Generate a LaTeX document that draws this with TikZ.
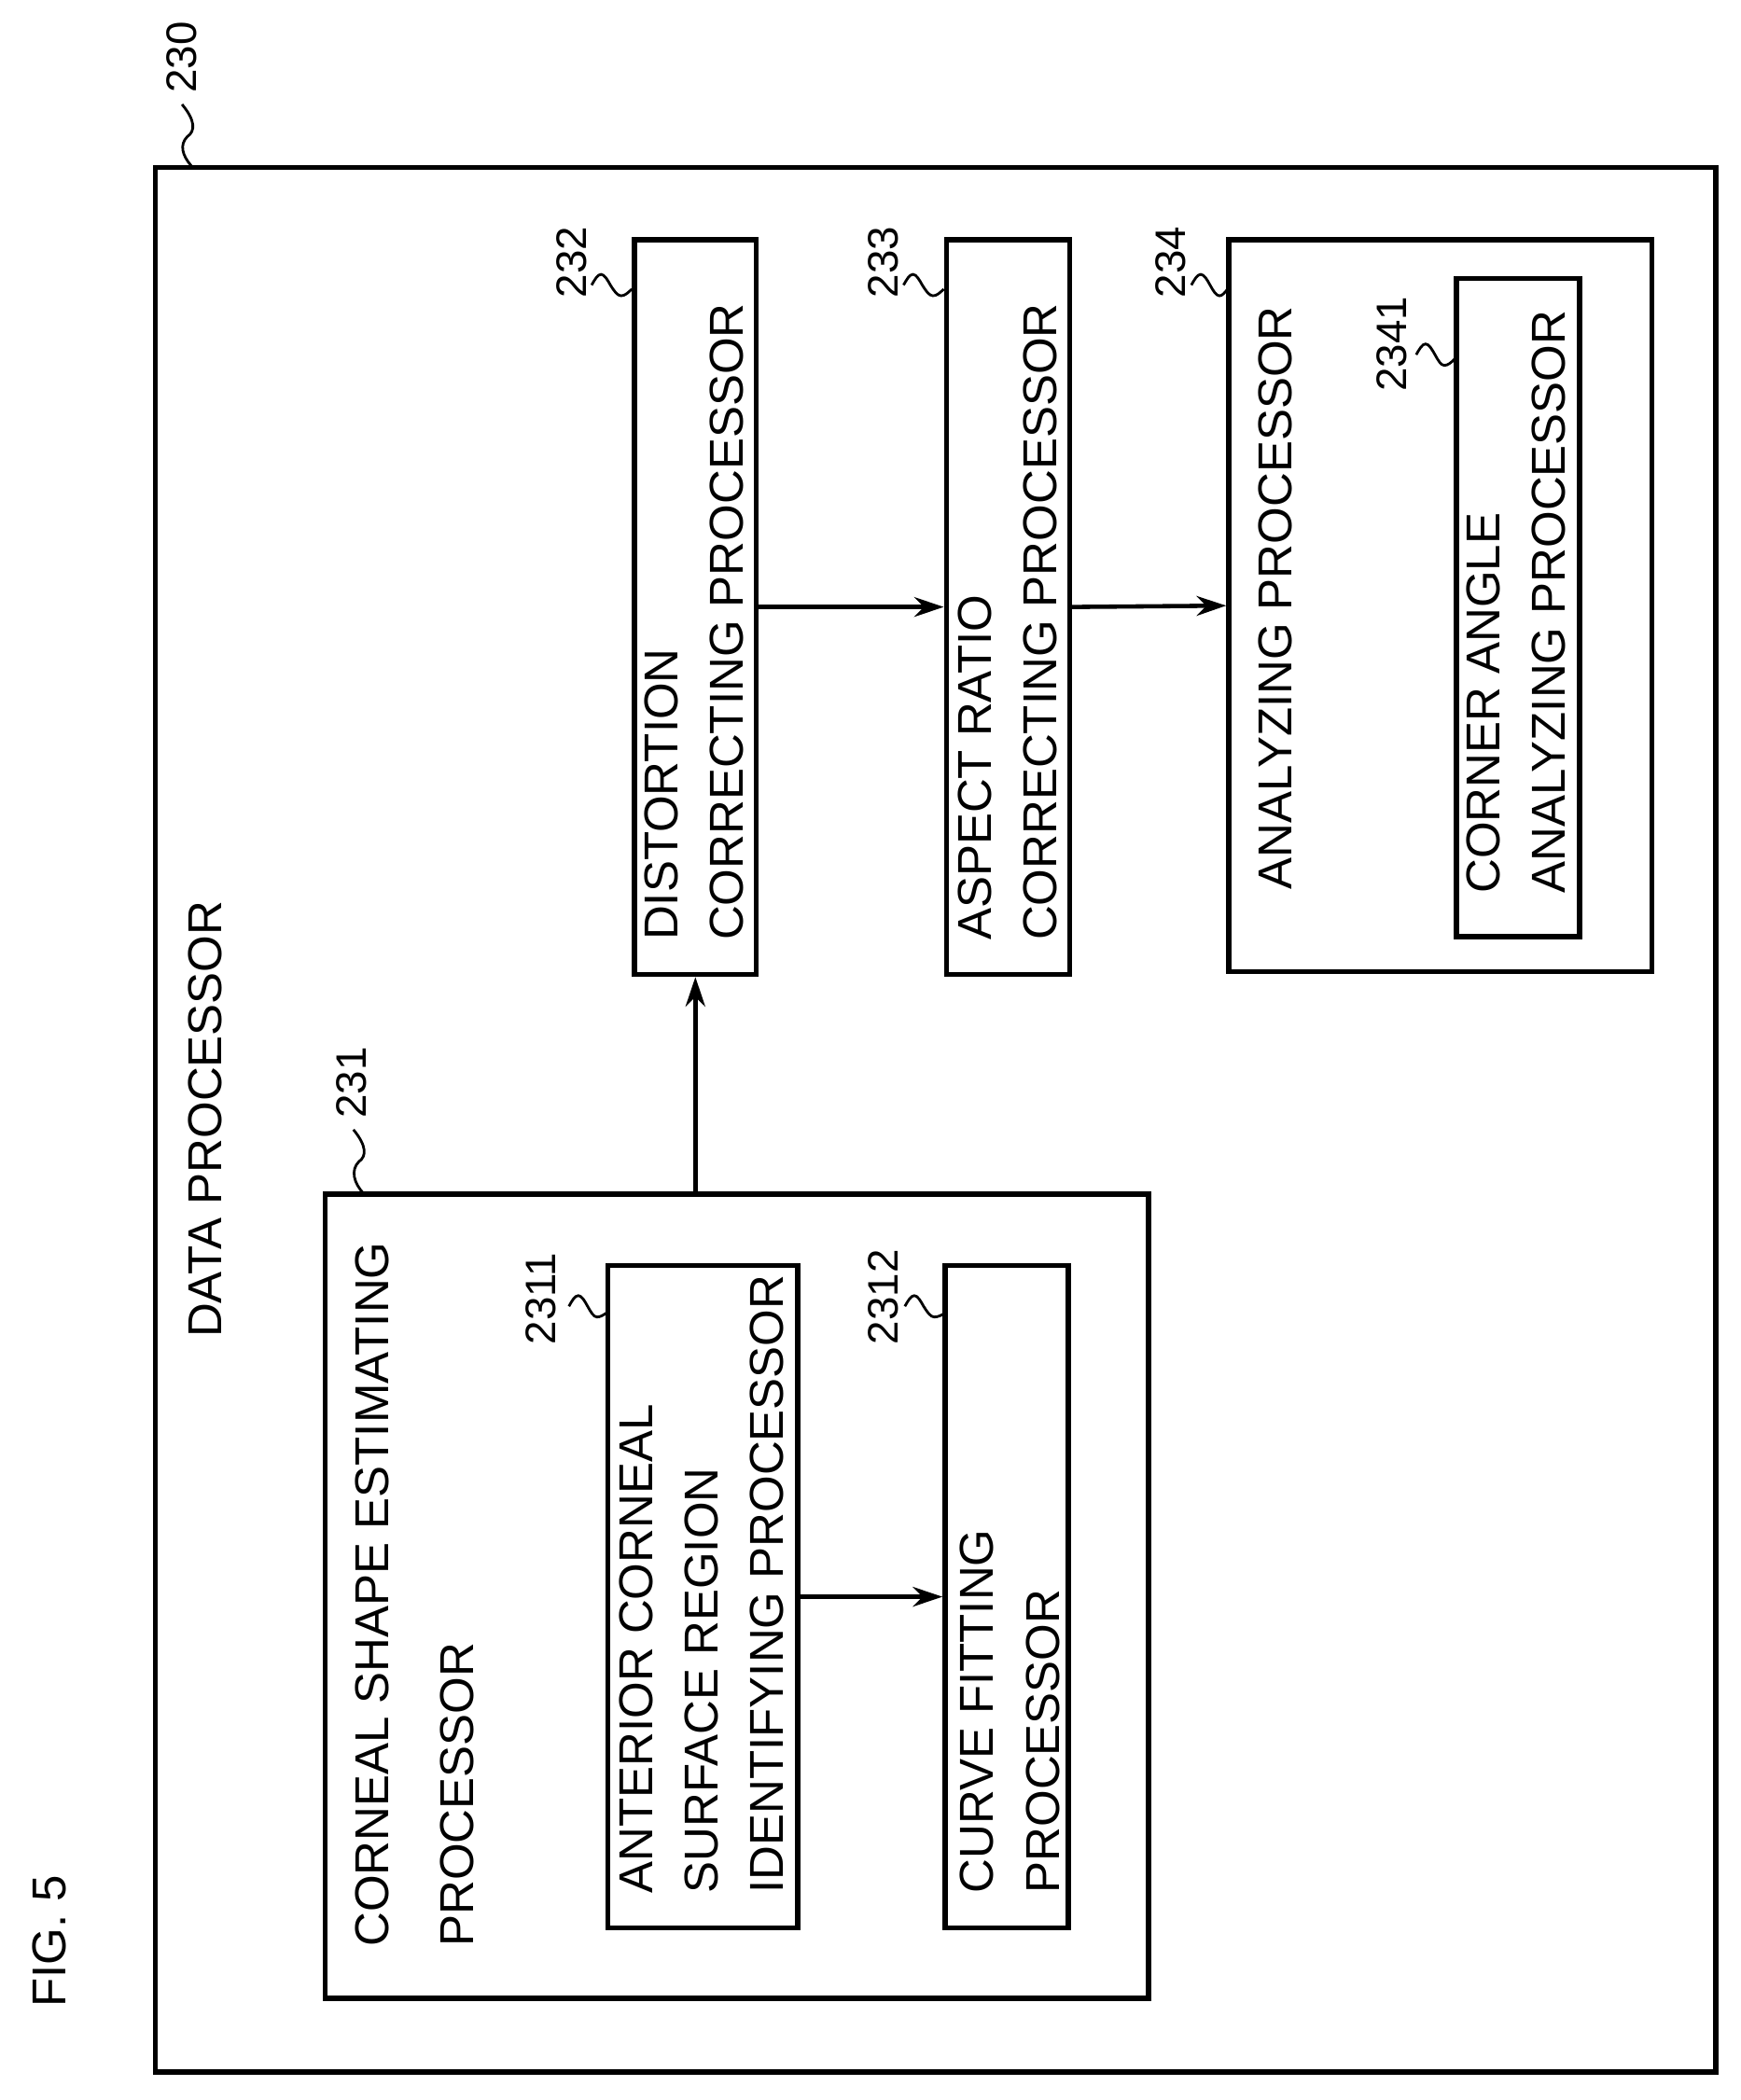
\documentclass[tikz,border=0pt]{standalone}
\usepackage{fontspec}
\setmainfont{Liberation Sans}
\usetikzlibrary{arrows.meta,positioning,calc}

\newcommand{\dpx}{0.014346cm}

\begin{document}
\begin{tikzpicture}[x=\dpx, y=-\dpx,
    box/.style={draw, line width=1.6pt, minimum width=#1},
    lbl/.style={rotate=90, anchor=north west, inner sep=0pt, align=left,
                font=\fontsize{14.5}{20}\selectfont},
    num/.style={rotate=90, anchor=north west, inner sep=0pt,
                font=\fontsize{13}{15}\selectfont},
    arr/.style={-{Stealth[length=9pt,width=6pt]}, line width=1.3pt},
    squig/.style={line width=0.8pt}]
    \useasboundingbox (0,0) rectangle (1300,1569);

    % outer frame
    \node[box=1166*\dpx, minimum height=1423*\dpx] (data) at (699,836.5) {};
    \node[lbl] (datat) at (140,1000) {DATA PROCESSOR};
    \node[num] (n230) at (124,70) {230};
    \draw[squig] (136,78) .. controls (146,90) and (146,98) .. (140,102)
                          .. controls (134,108) and (136,116) .. (143,124);
    \node[lbl] (fig) at (24,1500) {FIG. 5};

    % corneal shape estimating
    \node[box=615*\dpx, minimum height=601*\dpx] (shape) at (550.5,1192.5) {};
    \node[lbl, font=\fontsize{14.5}{26}\selectfont] (shapet) at (265,1455)
        {CORNEAL SHAPE ESTIMATING\\PROCESSOR};
    \node[num] (n231) at (251,836) {231};
    \draw[squig] (264,844) .. controls (274,856) and (274,864) .. (268,868)
                           .. controls (262,874) and (264,884) .. (272,892);

    \node[box=142*\dpx, minimum height=495*\dpx] (surf) at (525,1193) {};
    \node[lbl] (surft) at (462,1415)
        {ANTERIOR CORNEAL\\SURFACE REGION\\IDENTIFYING PROCESSOR};
    \node[num] (n2311) at (392,1005) {2311};
    \draw[squig] (425,976) sin (432,968) cos (439,976) sin (446,984) cos (453,981);

    \node[box=92*\dpx, minimum height=495*\dpx] (curve) at (752,1193) {};
    \node[lbl] (curvet) at (717,1415) {CURVE FITTING\\PROCESSOR};
    \node[num] (n2312) at (648,1005) {2312};
    \draw[squig] (676,976) sin (683,968) cos (690,976) sin (698,984) cos (706,981);

    % correcting processors
    \node[box=91*\dpx, minimum height=549*\dpx] (dist) at (519.5,453.5) {};
    \node[lbl] (distt) at (481,703) {DISTORTION\\CORRECTING PROCESSOR};
    \node[num] (n232) at (415,223) {232};
    \draw[squig] (442,213) sin (449,205) cos (456,213) sin (464,221) cos (472,216);

    \node[box=92*\dpx, minimum height=549*\dpx] (aspect) at (753,453.5) {};
    \node[lbl] (aspectt) at (715,703) {ASPECT RATIO\\CORRECTING PROCESSOR};
    \node[num] (n233) at (648,223) {233};
    \draw[squig] (675,213) sin (682,205) cos (689,213) sin (697,221) cos (705,216);

    % analyzing
    \node[box=316*\dpx, minimum height=547*\dpx] (anal) at (1076,452.5) {};
    \node[lbl] (analt) at (940,665) {ANALYZING PROCESSOR};
    \node[num] (n234) at (863,223) {234};
    \draw[squig] (890,213) sin (897,205) cos (904,213) sin (911,221) cos (917,216);

    \node[box=92*\dpx, minimum height=492*\dpx] (corner) at (1134,454) {};
    \node[lbl] (cornert) at (1095,668) {CORNER ANGLE\\ANALYZING PROCESSOR};
    \node[num] (n2341) at (1028,293) {2341};
    \draw[squig] (1058,265) sin (1065,257) cos (1072,265) sin (1079,273) cos (1087,268);

    % connectors
    \draw[arr] (surf.east) -- (curve.west);
    \draw[arr] (shape.north -| dist.south) -- (dist.south);
    \draw[arr] (dist.east) -- (aspect.west);
    \draw[arr] (aspect.east) -- (anal.west);
\end{tikzpicture}
\end{document}
